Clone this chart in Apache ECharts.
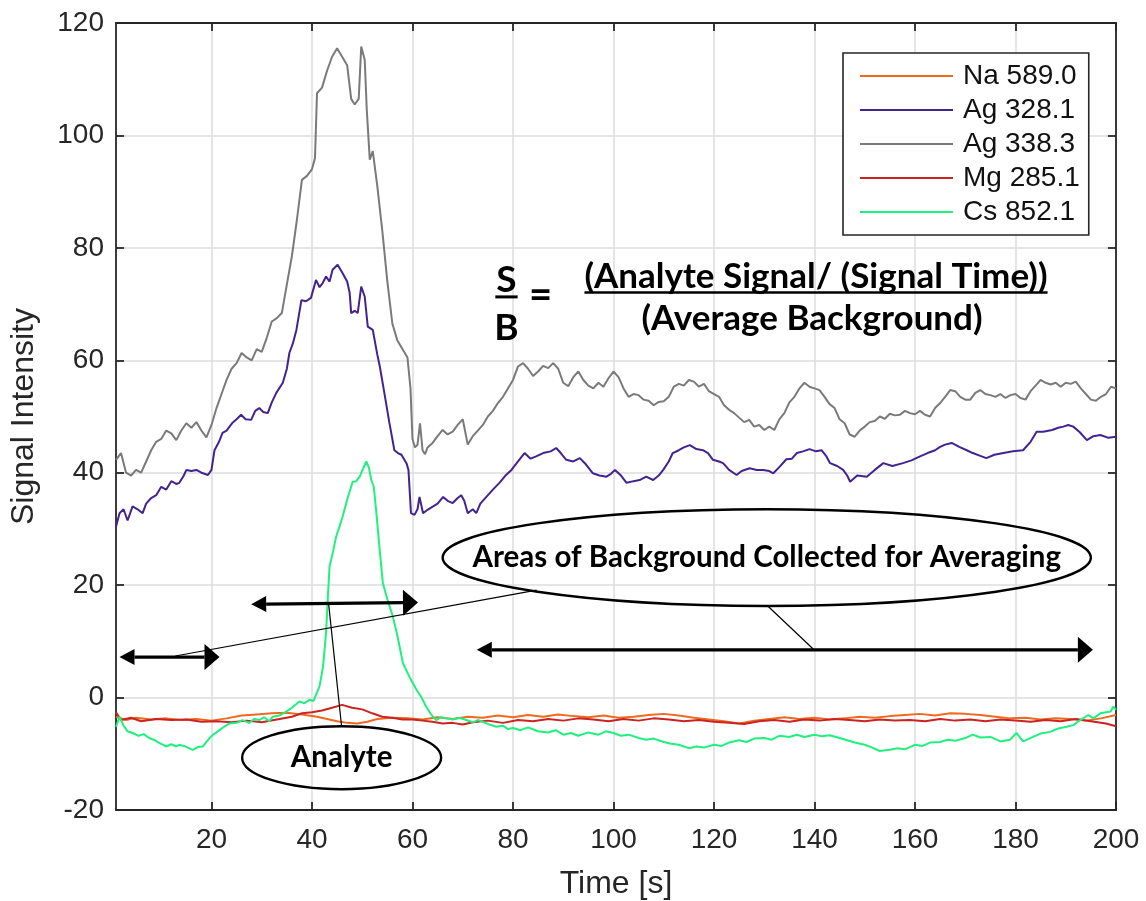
<!DOCTYPE html>
<html>
<head>
<meta charset="utf-8">
<script src="https://cdn.jsdelivr.net/npm/echarts@6/dist/echarts.min.js"></script>
<style>
html,body{margin:0;padding:0;background:#fff;}
#main{width:1146px;height:901px;}
</style>
</head>
<body>
<div id="main"></div>
<script>
// ---------- data (time [s], signal intensity) ----------
const seriesNames = ['Na 589.0', 'Ag 328.1', 'Ag 338.3', 'Mg 285.1', 'Cs 852.1'];
const xTickValues = [20, 40, 60, 80, 100, 120, 140, 160, 180, 200];
const yTickValues = [-20, 0, 20, 40, 60, 80, 100, 120];

const na589 = [[1,-3.4],[3,-4],[5,-3.6],[8,-3.9],[11,-3.7],[14,-4],[17,-3.8],[20,-4.1],[23,-3.7],[26,-3.2],[29,-3],[32,-2.8],[35,-2.7],[38,-3],[41,-3.4],[43,-3.8],[45,-4.2],[47,-4.5],[49,-4.6],[51,-4.3],[53,-3.8],[56,-3.6],[59,-3.7],[62,-3.9],[65,-3.5],[68,-3.8],[71,-3.4],[74,-3.6],[77,-3.2],[80,-3.5],[83,-3.1],[86,-3.4],[89,-3],[92,-3.3],[95,-3.5],[98,-3.2],[101,-3.6],[104,-3.4],[107,-3.1],[110,-2.9],[113,-3.2],[116,-3.6],[119,-3.9],[122,-4.2],[125,-4.6],[128,-4.1],[131,-3.8],[134,-3.5],[137,-3.8],[140,-3.6],[143,-3.9],[146,-3.7],[149,-3.4],[152,-3.6],[155,-3.3],[158,-3.1],[161,-2.9],[164,-3.2],[167,-2.8],[170,-2.9],[173,-3.1],[176,-3.4],[179,-3.7],[182,-3.6],[185,-3.9],[188,-3.7],[191,-3.8],[194,-4.1],[197,-3.7],[200,-3.1]];

const ag328 = [[1,30.4],[1.7,32.8],[2.5,33.5],[3.3,31.5],[4.3,34],[5.3,33.5],[6.3,32.8],[7,34.5],[8,35.5],[9,36],[10,37.5],[11,37],[12,38.5],[13,38],[13.6,38.2],[14.5,39.5],[15,40.5],[16,40.3],[17,40.5],[18,40],[19.3,39.6],[20,40.5],[20.6,44],[21.5,45.5],[22.2,47.1],[23,47.5],[24.2,48.9],[25,49.5],[25.9,50.3],[26.8,49.5],[27.9,49.4],[28.7,51],[29.5,51.5],[30.3,50.8],[31.2,50.6],[32,52.5],[32.9,54.2],[34.2,56],[35,58.5],[35.5,61.3],[36.2,63],[36.9,65.4],[37.9,70.7],[38.8,70.5],[39.8,71.1],[40.8,74.3],[41.5,73],[42.1,73.7],[42.8,74.9],[43.5,74],[44.1,76.1],[45.1,77],[46.1,75.5],[47,74],[47.5,72],[47.8,68.4],[48.5,68.8],[49.1,68.4],[49.8,73.1],[50.5,71.3],[51.1,66],[52.1,65.4],[53,61],[53.5,58.9],[54.4,54.2],[55.4,48.9],[56.4,44],[57.1,43.5],[57.8,43.2],[58.8,41.7],[59.2,40.5],[59.7,32.8],[60.4,32.5],[61,33.5],[61.4,35.7],[62.1,32.8],[63,33.4],[64.1,34],[65,34.5],[66.1,35.7],[67,35],[68,34.6],[69,35.5],[69.7,36],[70.3,35],[71,32.8],[72,33.5],[72.7,32.8],[73.5,34.5],[74.7,35.7],[76,37],[77.3,38.2],[78.5,39.5],[79.7,40.5],[81,42],[82.3,43.5],[83.5,42.5],[84.6,42.9],[86,43.5],[87.5,43.8],[88.6,44.4],[89.5,43.5],[90.6,42.3],[92,42],[93.3,42.6],[94.5,41.5],[95.9,39.9],[97.2,39.5],[98.6,39.3],[99.5,39.8],[100.3,40.5],[101.5,39.5],[102.6,38.2],[104,38.5],[105.2,38.7],[106.5,39.3],[107.9,38.7],[109,39.5],[109.9,40.5],[111,42],[111.8,43.5],[113,44],[114,44.5],[115.2,44.9],[116.5,44.2],[117.8,44],[118.8,43.5],[119.8,42.3],[121,42],[121.8,41.7],[123,40.5],[124.5,39.6],[125.5,40.3],[127.1,40.8],[128.5,40.5],[129.8,40.5],[131,40.3],[131.8,39.9],[133,41],[134.4,42.4],[135.5,42.5],[136.5,43.5],[137.7,43.8],[139,44.2],[140.3,43.8],[141.4,44],[142.3,43],[143.1,41.7],[144.5,41.2],[145.7,40.5],[146.5,39.5],[147.1,38.4],[148.5,39.5],[150.4,39.3],[152,40.5],[153.7,41.7],[155.5,41.2],[157.6,41.7],[159.3,42.2],[161,42.9],[162.5,43.5],[164,44],[165,44.6],[166,45],[167.3,45.3],[168.8,44.6],[170.3,44],[171.5,43.5],[173,43],[174.2,42.6],[175.8,43.2],[177.6,43.5],[179.5,43.8],[181.5,44],[183,45.5],[184.2,47.3],[185.5,47.3],[187.3,47.6],[188.5,48],[189.5,48.2],[190.5,48.5],[191.5,48.2],[192.8,47.2],[194.2,45.8],[195.5,46.5],[196.9,46.7],[198.5,46.2],[200,46.4]];

const ag338 = [[1,42.3],[2,43.5],[3,40],[4,39.5],[5,40.5],[6,40],[7,42],[8,44],[9,45.5],[10,46],[11,47.5],[12,47],[13,45.8],[14,47.5],[15,48.8],[16,48],[17,49],[18,47.5],[19,46.3],[20,48.5],[21,51.5],[22,54],[23,56.5],[24,58.5],[25,59.5],[26,61.3],[27,60.5],[28,60],[29,62],[30,61.5],[31,64],[32,66.9],[33,67.5],[34,68.4],[35,73.5],[36,78.5],[37,85],[38,92.1],[39,92.8],[40,94],[40.6,96],[41,107.5],[42,108.5],[43,111.5],[44,114],[45,115.5],[46,114],[47,112.5],[47.8,106.5],[48.5,105.5],[49.3,106.5],[49.8,115.8],[50.5,113.4],[50.9,104.6],[51.5,95.7],[52.1,97.2],[53,91],[54,83],[55,74],[56,66.5],[57,63.5],[58,62],[59,60.5],[59.6,55],[60,46],[60.5,44.5],[61,45],[61.5,48.8],[62,44],[62.5,43.3],[63,44.5],[64,45.3],[65,46.5],[66,47.6],[67,46.8],[68,47.3],[69,48.5],[70,49.5],[71,45],[72,46.5],[73,47.5],[74,48.5],[75,50],[76,51],[77,52.4],[78,53.5],[79,55],[80,56.5],[81,58.9],[82,59.5],[83,58.5],[84,57.2],[85,58],[86,59],[87,58.6],[88,59.5],[89,58.5],[90,56],[91,55.4],[92,57],[93,58],[94,56.5],[95,55.5],[96,55],[97,56],[98,55.3],[99,56.8],[100,58],[101,57],[102,55],[103,53.5],[104,54],[105,53.8],[106,53],[107,52.8],[108,52],[109,52.6],[110,52.7],[111,53.5],[112,55.3],[113,55.8],[114,55.5],[115,56.5],[116,56.2],[117,55.3],[118,55.8],[119,54.5],[120,54],[121,53.5],[122,52],[123,51.2],[124,50.6],[125,49.8],[126,49],[127,49.4],[128,48.2],[129,48.5],[130,47.6],[131,48.2],[132,47.6],[133,49.5],[134,50.6],[135,52.5],[136,53.5],[137,55],[138,56],[139,55.3],[140,55],[141,54.7],[142,53.5],[143,52.2],[144,51.5],[145,49.5],[146,48.8],[147,46.8],[148,46.4],[149,47.5],[150,48.2],[151,49],[152,49.2],[153,50],[154,49.6],[155,50.5],[156,50.2],[157,50.3],[158,51],[159,50.6],[160,50.4],[161,51],[162,50.3],[163,50],[164,51.5],[165,52.4],[166,53.5],[167,54.7],[168,54.5],[169,53.5],[170,53],[171,53],[172,54.2],[173,54.7],[174,54],[175,53.8],[176,53.5],[177,54],[178,53.3],[179,53.8],[180,54],[181,53.3],[182,53],[183,54.5],[184,55.5],[185,56.5],[186,56],[187,55.7],[188,56],[189,55.3],[190,56],[191,55.8],[192,56.2],[193,55],[194,54],[195,53],[196,52.8],[197,53.5],[198,54],[199,55.3],[200,55]];

const mg285 = [[1,-2.6],[2,-4],[4,-3.6],[6,-4.2],[9,-3.8],[12,-4],[15,-3.9],[18,-4.3],[21,-4.2],[24,-4.4],[27,-4.1],[30,-4.4],[33,-3.9],[36,-3.4],[38,-2.8],[40,-2.6],[42,-2.3],[44,-1.8],[46,-1.3],[48,-1.8],[50,-2.1],[52,-2.8],[54,-3.4],[56,-3.6],[58,-3.9],[60,-3.9],[62,-4.1],[64,-4.3],[66,-4.6],[68,-4.5],[70,-4.8],[72,-4.4],[75,-4.1],[78,-4.5],[81,-4],[84,-4.2],[87,-3.8],[90,-4.1],[93,-3.7],[96,-3.9],[99,-4.2],[102,-3.8],[105,-4.1],[108,-3.7],[111,-3.9],[114,-4.2],[117,-4],[120,-4.3],[123,-4.5],[126,-4.7],[129,-4.2],[132,-4],[135,-4.3],[138,-3.9],[141,-4.1],[144,-3.8],[147,-4],[150,-4.2],[153,-3.9],[156,-4.1],[159,-4],[162,-4.2],[165,-3.8],[168,-4.1],[171,-3.9],[174,-4.2],[177,-3.9],[180,-4.1],[183,-4.3],[186,-4],[189,-4.2],[192,-3.8],[195,-4.2],[198,-4.6],[200,-5.1]];

const cs852 = [[1,-5.2],[1.7,-3.4],[2.5,-5],[3.3,-6],[4.3,-6.3],[5.5,-6.8],[6.5,-6.5],[7.6,-7.2],[8.5,-7.5],[9.5,-8],[11,-8.7],[12,-8.3],[13,-8.7],[13.6,-8.4],[14.5,-8.6],[15.5,-9],[16.3,-9.3],[17.3,-8.8],[18.3,-8.7],[19.6,-7.2],[20.5,-6.5],[21.6,-5.8],[22.5,-5.2],[23.6,-4.6],[25,-4.5],[26.2,-4],[27.5,-4.5],[28.5,-3.8],[29.5,-4],[30.5,-3.5],[31.5,-4.2],[32.2,-3.4],[33.5,-3.2],[34.9,-2.5],[36,-1.8],[37.5,-0.7],[38.5,-1],[39.5,-0.4],[40.3,-0.6],[40.8,0.5],[41.5,2],[42.2,5.5],[42.8,11.5],[43.2,18.6],[43.5,23.3],[44.2,26],[44.8,28.6],[45.5,30.5],[46.1,32.2],[47.1,35.5],[48.1,38.4],[48.8,38.5],[49.5,39.3],[50.2,40.8],[50.8,42],[51.3,41],[51.8,38.7],[52.3,37.5],[52.8,33],[53.4,27],[54.1,20.4],[55,17.5],[56.1,14.4],[57,11],[58.1,6.1],[59.5,3.5],[60.8,1.4],[61.8,0],[62.7,-1.6],[63.7,-3],[64.7,-4],[65.7,-3.5],[66.7,-3.7],[68,-3.9],[69.3,-3.6],[70.7,-4],[72,-4.4],[73,-4],[74,-4.3],[75.3,-4.8],[76.7,-5.2],[78,-5],[79,-5.6],[80,-5.4],[81.5,-5.8],[83,-5.3],[85,-6],[87,-6.2],[88.5,-5.8],[90,-6.6],[91.5,-6.3],[93,-6.8],[95,-6.2],[97,-6.6],[98.5,-6],[100,-6.3],[101.5,-6.8],[103,-6.6],[105,-7.2],[106.5,-7.5],[108,-7.3],[110,-7.9],[111.5,-8.2],[113,-8.4],[115,-9],[116.5,-8.7],[118,-8.9],[120,-8.4],[121.5,-8.6],[123,-8],[125,-7.6],[126.5,-7.9],[128,-7.3],[130,-7.2],[131.5,-7.5],[133,-6.8],[135,-7],[136.5,-6.6],[138,-7],[140,-6.6],[141.5,-6.9],[143,-6.7],[145,-7.2],[146.5,-7.6],[148,-8],[150,-8.4],[151.5,-8.9],[153,-9.5],[155,-9.3],[156.5,-9],[158,-9.2],[160,-8.4],[161.5,-8.6],[163,-8],[165,-7.9],[166.5,-7.5],[168,-7.7],[170,-7.2],[171.5,-6.6],[173,-7.1],[175,-7],[177,-7.8],[178.9,-7.5],[180.2,-6.3],[181.5,-7.8],[183.5,-7],[185,-6.4],[186.9,-6.1],[188.5,-5.5],[190.2,-5.2],[191.5,-4.9],[192.9,-4],[194.5,-3.1],[195.5,-3.7],[196.9,-2.8],[198,-2.6],[198.9,-2.5],[199.5,-1.6],[200,-2.2]];

// ---------- annotations (data coordinates: [time, intensity]) ----------
const arrowSpans = [[[1.7, 7.2], [21.6, 7.2]], [[27.9, 16.6], [61.1, 16.9]], [[72.8, 8.5], [195.4, 8.5]]];
const leaderLines = [[[12.8, 7.4], [84.7, 19.1]], [[130.7, 16.3], [139.9, 8.5]], [[43.3, 16.8], [45.9, -5.2]]];
const bubbles = [
  {text: 'Areas of Background Collected for Averaging', center: [130.5, 24.9], radius: [64.5, 8.6]},
  {text: 'Analyte', center: [45.9, -10.7], radius: [19.8, 5.6]}
];
const formula = {S: [78.7, 74.3], B: [78.7, 65.7], eq: [85.5, 71.6],
  num: {text: '(Analyte Signal/ (Signal Time))', at: [140.3, 74.9]},
  den: {text: '(Average Background)', at: [139.5, 67.4]}};

const colors = ['#EE6A1E', '#43238F', '#7A7A7A', '#CB2222', '#1FF07E'];
const seriesData = [na589, ag328, ag338, mg285, cs852];

const axisColor = '#262626';
const labelFont = 'Liberation Sans, Arial, sans-serif';

const chart = echarts.init(document.getElementById('main'), null, {renderer: 'canvas'});

const commonAxis = {
  axisLine: {show: true, onZero: false, lineStyle: {color: axisColor, width: 1.8}},
  axisTick: {show: true, inside: true, length: 8, lineStyle: {color: axisColor, width: 1.8}},
};

const option = {
  animation: false,
  backgroundColor: '#fff',
  color: colors,
  grid: {left: 116, right: 30, top: 23, bottom: 91, containLabel: false, outerBoundsMode: 'none'},
  legend: {
    orient: 'vertical', left: 843, top: 53,
    backgroundColor: '#fff', borderColor: axisColor, borderWidth: 1.6, borderRadius: 0,
    padding: [8, 9, 8, 17], itemGap: 4, itemWidth: 93, itemHeight: 2, icon: 'rect',
    textStyle: {fontFamily: labelFont, fontSize: 28, color: '#111', lineHeight: 30, padding: [0, 0, 0, 5]},
    data: seriesNames
  },
  xAxis: [
    Object.assign({}, commonAxis, {
      type: 'value', min: 1, max: 200, position: 'bottom',
      name: 'Time [s]', nameLocation: 'middle', nameGap: 58,
      nameTextStyle: {fontFamily: labelFont, fontSize: 32, color: axisColor},
      axisTick: Object.assign({}, commonAxis.axisTick, {customValues: xTickValues}),
      axisLabel: {customValues: xTickValues, fontFamily: labelFont, fontSize: 28, color: axisColor, margin: 16},
      splitLine: {show: true, lineStyle: {color: '#DCDCDC', width: 1.5}}
    }),
    Object.assign({}, commonAxis, {
      type: 'value', min: 1, max: 200, position: 'top',
      axisTick: Object.assign({}, commonAxis.axisTick, {customValues: xTickValues}),
      axisLabel: {show: false}, splitLine: {show: false}
    })
  ],
  yAxis: [
    Object.assign({}, commonAxis, {
      type: 'value', min: -20, max: 120, interval: 20, position: 'left',
      name: 'Signal Intensity', nameLocation: 'middle', nameGap: 76,
      nameTextStyle: {fontFamily: labelFont, fontSize: 32, color: axisColor},
      axisLabel: {fontFamily: labelFont, fontSize: 28, color: axisColor, margin: 12},
      splitLine: {show: true, lineStyle: {color: '#DCDCDC', width: 1.5}}
    }),
    Object.assign({}, commonAxis, {
      type: 'value', min: -20, max: 120, interval: 20, position: 'right',
      axisLabel: {show: false}, splitLine: {show: false}
    })
  ],
  series: seriesNames.map((name, i) => ({
    name: name, type: 'line', data: seriesData[i],
    xAxisIndex: 0, yAxisIndex: 0,
    showSymbol: false, symbol: 'none', clip: true,
    lineStyle: {width: 2, color: colors[i]},
    itemStyle: {color: colors[i]},
    z: 2 + i
  }))
};
chart.setOption(option);

// ---------- annotation graphics placed through the axis scales ----------
function P(pt) { return chart.convertToPixel({xAxisIndex: 0, yAxisIndex: 0}, pt); }
const annoFont = 'Lato, "Open Sans", sans-serif';
const g = [];

arrowSpans.forEach(function (span) {
  const a = P(span[0]), b = P(span[1]);
  const ang = Math.atan2(b[1] - a[1], b[0] - a[0]);
  const ux = Math.cos(ang), uy = Math.sin(ang), nx = -uy, ny = ux;
  const lenL = 15, hwL = 8, lenR = 15, hwR = 13;
  g.push({type: 'line', z: 100, shape: {x1: a[0] + ux * lenL, y1: a[1] + uy * lenL, x2: b[0] - ux * lenR, y2: b[1] - uy * lenR},
    style: {stroke: '#000', lineWidth: 3.2}});
  g.push({type: 'polygon', z: 100, shape: {points: [a, [a[0] + ux * lenL + nx * hwL, a[1] + uy * lenL + ny * hwL], [a[0] + ux * lenL - nx * hwL, a[1] + uy * lenL - ny * hwL]]},
    style: {fill: '#000'}});
  g.push({type: 'polygon', z: 100, shape: {points: [b, [b[0] - ux * lenR + nx * hwR, b[1] - uy * lenR + ny * hwR], [b[0] - ux * lenR - nx * hwR, b[1] - uy * lenR - ny * hwR]]},
    style: {fill: '#000'}});
});

leaderLines.forEach(function (ln) {
  const a = P(ln[0]), b = P(ln[1]);
  g.push({type: 'line', z: 100, shape: {x1: a[0], y1: a[1], x2: b[0], y2: b[1]}, style: {stroke: '#000', lineWidth: 1.2}});
});

bubbles.forEach(function (bb, i) {
  const c = P(bb.center);
  const e = P([bb.center[0] + bb.radius[0], bb.center[1] + bb.radius[1]]);
  g.push({type: 'ellipse', z: 101, shape: {cx: c[0], cy: c[1], rx: Math.abs(e[0] - c[0]), ry: Math.abs(e[1] - c[1])},
    style: {fill: 'rgba(255,255,255,0)', stroke: '#000', lineWidth: 2.4}});
  g.push({type: 'text', z: 102, style: {text: bb.text, x: c[0], y: c[1], fill: '#000',
    font: 'bold 29.5px ' + annoFont, align: 'center', verticalAlign: 'middle',
    textAlign: 'center', textVerticalAlign: 'middle'}});
});

// formula S/B
const mctx = document.createElement('canvas').getContext('2d');
function textW(t, font) { mctx.font = font; return mctx.measureText(t).width; }
const sFont = 'bold 37px ' + annoFont;
const nFont = 'bold 35px ' + annoFont;
const sP = P(formula.S), eqP = P(formula.eq), nP = P(formula.num.at), dP = P(formula.den.at);
[[formula.S, 'S', sFont], [formula.B, 'B', sFont]].forEach(function (it) {
  const p = P(it[0]);
  g.push({type: 'text', z: 102, style: {text: it[1], x: p[0], y: p[1], fill: '#000', font: it[2],
    align: 'center', verticalAlign: 'middle', textAlign: 'center', textVerticalAlign: 'middle'}});
});
const sw = textW('S', sFont);
g.push({type: 'line', z: 102, shape: {x1: sP[0] - sw / 2 - 1, y1: sP[1] + 17, x2: sP[0] + sw / 2 + 1, y2: sP[1] + 17}, style: {stroke: '#000', lineWidth: 3}});
g.push({type: 'text', z: 102, style: {text: '=', x: eqP[0], y: eqP[1], fill: '#000', font: 'bold 40px ' + annoFont,
  align: 'center', verticalAlign: 'middle', textAlign: 'center', textVerticalAlign: 'middle'}});
g.push({type: 'text', z: 102, style: {text: formula.num.text, x: nP[0], y: nP[1], fill: '#000', font: nFont,
  align: 'center', verticalAlign: 'middle', textAlign: 'center', textVerticalAlign: 'middle'}});
const nw = textW(formula.num.text, nFont);
g.push({type: 'line', z: 102, shape: {x1: nP[0] - nw / 2, y1: nP[1] + 16, x2: nP[0] + nw / 2, y2: nP[1] + 16}, style: {stroke: '#000', lineWidth: 2.6}});
g.push({type: 'text', z: 102, style: {text: formula.den.text, x: dP[0], y: dP[1], fill: '#000', font: nFont,
  align: 'center', verticalAlign: 'middle', textAlign: 'center', textVerticalAlign: 'middle'}});

chart.setOption({graphic: {elements: g}});
</script>
</body>
</html>
